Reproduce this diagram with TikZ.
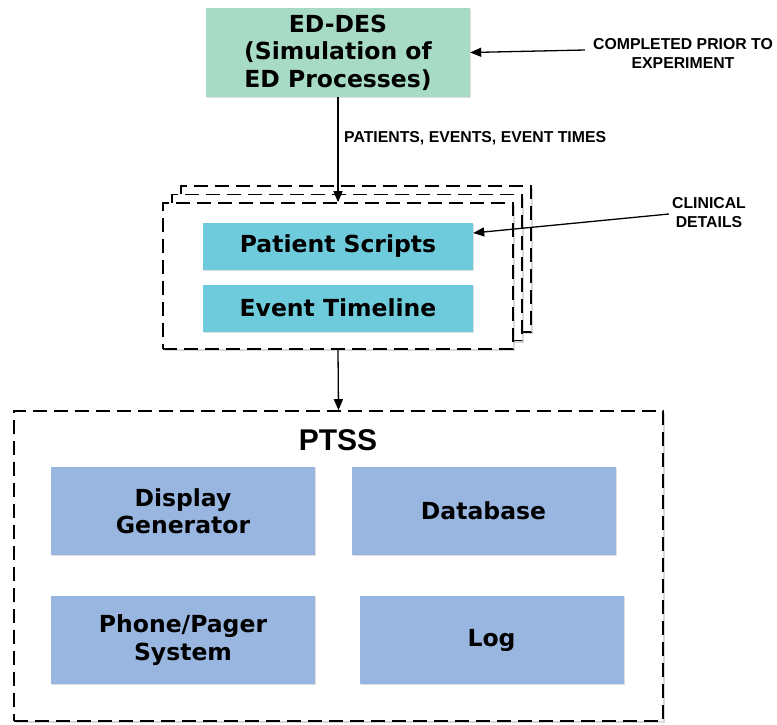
\documentclass[tikz,border=0pt]{standalone}
\usepackage{fontspec}
\setmainfont{DejaVu Sans}
\newfontfamily\lab{Liberation Sans}
\usetikzlibrary{arrows.meta,shadows}
\definecolor{mint}{RGB}{168,219,198}
\definecolor{cyanbox}{RGB}{110,203,220}
\definecolor{bluebox}{RGB}{152,182,224}
\tikzset{
  box/.style={draw=none, inner sep=0pt, align=center, font=\fontsize{23.5}{27.5}\selectfont\bfseries,
    drop shadow={shadow xshift=1pt, shadow yshift=-1pt, opacity=0.25}},
  dbox/.style={draw=black, line width=1.6pt, dash pattern=on 14pt off 7pt, fill=white, inner sep=0pt,
    drop shadow={shadow xshift=2pt, shadow yshift=-2pt, opacity=0.3}},
  arr/.style={-{Triangle[length=11pt,width=9pt]}, line width=1.3pt},
  note/.style={font=\lab\fontsize{15.8}{19}\selectfont\bfseries, align=center, inner sep=0pt}
}
\begin{document}
\begin{tikzpicture}[x=1pt,y=-1pt]
\useasboundingbox (0,0) rectangle (777,724);
% ED-DES
\node[box, fill=mint, minimum width=264pt, minimum height=89pt] (eddes) at (338,52.5)
  {ED-DES\\(Simulation of\\ED Processes)};
\node[note] (done) at (683,53) {COMPLETED PRIOR TO\\EXPERIMENT};
\draw[arr] ([xshift=-8pt,yshift=3pt]done.west) -- (eddes.east);
\node[note, anchor=west] (pet) at (344,138) {PATIENTS, EVENTS, EVENT TIMES};
% stack
\node[dbox, minimum width=350pt, minimum height=146pt] (back) at (356,259) {};
\node[dbox, minimum width=350pt, minimum height=146pt] (mid) at (347,267.5) {};
\node[dbox, minimum width=350pt, minimum height=146pt] (front) at (338,276) {};
\node[box, fill=cyanbox, minimum width=270pt, minimum height=47pt] (ps) at (338,246) {Patient Scripts};
\node[box, fill=cyanbox, minimum width=270pt, minimum height=47pt] (et) at (338,308) {Event Timeline};
\node[note] (clin) at (709,212.5) {CLINICAL\\DETAILS};
\draw[arr] ([xshift=-3pt,yshift=-1.5pt]clin.west) -- ([yshift=13pt]ps.east);
\draw[arr] (eddes.south) -- (front.north);
% PTSS
\node[dbox, minimum width=649pt, minimum height=310pt] (ptss) at (338.5,566) {};
\node[font=\lab\fontsize{30}{34}\selectfont\bfseries, inner sep=0pt] (ptsslab) at (338,440) {PTSS};
\draw[arr] (front.south) -- (ptss.north);
\node[box, fill=bluebox, minimum width=264pt, minimum height=88pt] (dg) at (183,511) {Display\\Generator};
\node[box, fill=bluebox, minimum width=264pt, minimum height=88pt] (db) at (483.5,511) {Database};
\node[box, fill=bluebox, minimum width=264pt, minimum height=88pt] (pp) at (183,640) {Phone/Pager\\System};
\node[box, fill=bluebox, minimum width=264pt, minimum height=88pt] (log) at (491.5,640) {Log};
\end{tikzpicture}
\end{document}
